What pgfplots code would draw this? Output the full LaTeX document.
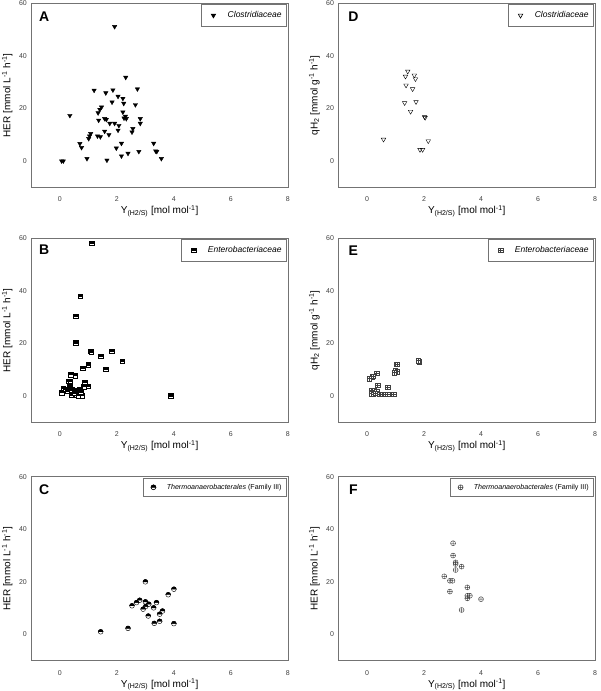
\documentclass[border=0pt]{standalone}
\usepackage{fontspec}
\setmainfont{Liberation Sans}
\usepackage{pgfplots}
\pgfplotsset{compat=1.18}
\usetikzlibrary{plotmarks}

% custom marks
\pgfdeclareplotmark{tophalfsquare}{%
  \pgfpathrectangle{\pgfpoint{-\pgfplotmarksize}{-\pgfplotmarksize}}{\pgfpoint{2\pgfplotmarksize}{2\pgfplotmarksize}}%
  \pgfsetfillcolor{white}\pgfusepathqfillstroke
  \pgfpathrectangle{\pgfpoint{-\pgfplotmarksize}{0pt}}{\pgfpoint{2\pgfplotmarksize}{\pgfplotmarksize}}%
  \pgfsetfillcolor{black}\pgfusepathqfillstroke}
\pgfdeclareplotmark{tophalfcircle}{%
  \pgfpathcircle{\pgfpointorigin}{\pgfplotmarksize}%
  \pgfsetfillcolor{white}\pgfusepathqfillstroke
  \pgfpathmoveto{\pgfpoint{-\pgfplotmarksize}{0pt}}%
  \pgfpatharc{180}{0}{\pgfplotmarksize}\pgfpathclose
  \pgfsetfillcolor{black}\pgfusepathqfillstroke}
\pgfdeclareplotmark{boxplus}{%
  \pgfpathrectangle{\pgfpoint{-\pgfplotmarksize}{-\pgfplotmarksize}}{\pgfpoint{2\pgfplotmarksize}{2\pgfplotmarksize}}%
  \pgfsetfillcolor{white}\pgfusepathqfillstroke
  \pgfpathmoveto{\pgfpoint{-\pgfplotmarksize}{0pt}}\pgfpathlineto{\pgfpoint{\pgfplotmarksize}{0pt}}%
  \pgfpathmoveto{\pgfpoint{0pt}{-\pgfplotmarksize}}\pgfpathlineto{\pgfpoint{0pt}{\pgfplotmarksize}}%
  \pgfusepathqstroke}

\pgfplotsset{
  panel/.style={
    scale only axis, width=256.5pt, height=184pt, anchor=north west,
    xmin=-1, xmax=8, ymin=-10, ymax=60,
    xtick={0,2,4,6,8}, ytick={0,20,40,60},
    major tick length=0pt,
    axis line style={black!55, line width=0.7pt},
    /pgf/number format/assume math mode=true,
    tick label style={font=\fontsize{7}{8}\selectfont, text=black!75},
    xticklabel style={yshift=-6pt},
    yticklabel style={xshift=-1pt},
    label style={font=\fontsize{9}{10}\selectfont},
    every axis x label/.style={at={(axis description cs:0.5,-0.129)}, anchor=center},
    every axis y label/.style={at={(axis description cs:-0.094,0.5)}, rotate=90, anchor=center},
    xlabel={Y\textsubscript{(H2/S)} [mol mol\textsuperscript{-1}]},
    legend style={at={(rel axis cs:1,1)}, anchor=north east, xshift=-1pt, yshift=-1pt,
      draw=black!55, line width=0.6pt, font=\fontsize{8.5}{10}\selectfont,
      inner xsep=3pt, inner ysep=5pt, fill=white},
    legend cell align=left,
    legend image code/.code={\path (0pt,0pt) (21pt,0pt); \draw[##1] plot coordinates {(9pt,0pt)};},
  },
  every axis plot/.append style={only marks, mark options={line width=0.5pt}},
}

\begin{document}
\begin{tikzpicture}
\useasboundingbox (0pt,0pt) rectangle (600pt,-691pt);

% ---------------- A ----------------
\begin{axis}[panel, at={(31.4pt,-3.3pt)}, ylabel={HER [mmol L\textsuperscript{-1} h\textsuperscript{-1}]}]
\addplot[mark=triangle*, mark size=2.5pt, mark options={rotate=180, fill=black, draw=black}] table {
0.06 0
0.12 0
0.35 17.3
0.70 6.6
0.76 5.1
0.95 0.9
1.01 8.5
1.04 9.5
1.08 10.4
1.20 26.9
1.32 9.5
1.34 18.3
1.36 15.5
1.40 19.6
1.42 9.2
1.46 20.5
1.57 16.1
1.57 11.3
1.61 25.9
1.63 15.8
1.65 0.3
1.72 10.0
1.75 14.3
1.83 22.4
1.86 27.0
1.92 51.1
1.92 14.3
1.98 4.9
2.04 24.6
2.04 11.7
2.07 13.5
2.16 6.7
2.16 1.9
2.21 23.8
2.24 21.9
2.21 18.6
2.25 16.3
2.30 17.0
2.33 16.1
2.31 31.8
2.39 2.9
2.53 11.0
2.56 12.3
2.65 21.4
2.72 27.4
2.77 3.6
2.82 16.1
2.82 14.3
3.29 6.7
3.36 3.8
3.40 3.6
3.56 0.9
};
\addlegendentry{\textit{Clostridiaceae}}
\node[font=\fontsize{14}{14}\selectfont\bfseries] at (rel axis cs:0.05,0.927) {A};
\end{axis}

% ---------------- D ----------------
\begin{axis}[panel, at={(338.5pt,-3.3pt)}, ylabel={qH\textsubscript{2} [mmol g\textsuperscript{-1} h\textsuperscript{-1}]}]
\addplot[mark=triangle, mark size=2.6pt, mark options={rotate=180, draw=black, fill=white}] table {
1.43 34.1
1.35 32.2
1.66 32.6
1.70 31.2
1.37 28.8
1.60 27.4
1.32 22.1
1.72 22.5
1.53 18.8
2.02 16.8
2.04 16.5
0.58 8.2
2.15 7.6
1.86 4.3
1.95 4.3
};
\addlegendentry{\textit{Clostridiaceae}}
\node[font=\fontsize{14}{14}\selectfont\bfseries] at (rel axis cs:0.058,0.927) {D};
\end{axis}

% ---------------- B ----------------
\begin{axis}[panel, at={(31.4pt,-238.3pt)}, ylabel={HER [mmol L\textsuperscript{-1} h\textsuperscript{-1}]}]
\addplot[mark=tophalfsquare, mark size=2.3pt, mark options={draw=black}] table {
1.12 58.1
0.71 37.9
0.55 30.3
0.55 20.2
1.08 17.1
1.10 16.6
1.82 17.1
1.43 15.1
2.19 13.3
1.00 11.8
0.81 10.6
1.61 10.2
0.38 8.2
0.54 7.8
0.29 5.6
0.36 5.6
0.88 5.1
1.00 3.8
0.83 3.6
0.35 3.6
0.12 2.8
0.06 1.3
0.21 2.6
0.27 1.8
0.41 2.3
0.55 2.2
0.70 2.3
0.39 0.5
0.59 0.5
0.64 0.2
0.78 0.2
0.74 1.5
0.50 1.2
3.88 0.1
};
\addlegendentry{\textit{Enterobacteriaceae}}
\node[font=\fontsize{14}{14}\selectfont\bfseries] at (rel axis cs:0.05,0.936) {B};
\end{axis}

% ---------------- E ----------------
\begin{axis}[panel, at={(338.5pt,-238.3pt)}, ylabel={qH\textsubscript{2} [mmol g\textsuperscript{-1} h\textsuperscript{-1}]}]
\addplot[mark=boxplus, mark size=2.2pt, mark options={draw=black!75}] table {
1.83 13.1
1.80 13.5
1.02 12.1
1.06 12.1
0.99 9.6
1.07 9.3
0.96 8.9
0.34 8.7
0.18 7.4
0.22 7.5
0.08 6.6
0.37 4.2
0.72 3.4
0.14 2.2
0.26 2.2
0.34 1.9
0.14 0.9
0.22 0.6
0.29 1.1
0.43 0.6
0.55 0.6
0.64 0.6
0.72 0.6
0.93 0.6
};
\addlegendentry{\textit{Enterobacteriaceae}}
\node[font=\fontsize{14}{14}\selectfont\bfseries] at (rel axis cs:0.058,0.931) {E};
\end{axis}

% ---------------- C ----------------
\begin{axis}[panel, at={(31.4pt,-476.7pt)}, ylabel={HER [mmol L\textsuperscript{-1} h\textsuperscript{-1}]},
  legend style={font=\fontsize{7.1}{8}\selectfont, inner ysep=4pt},
  legend image code/.code={\path (0pt,0pt) (18pt,0pt); \draw[#1] plot coordinates {(7pt,0pt)};}]
\addplot[mark=tophalfcircle, mark size=2.4pt, mark options={draw=black}] table {
3.00 20.0
4.00 17.2
3.80 15.1
2.80 13.0
3.00 12.4
3.12 11.5
2.69 12.1
3.39 12.1
2.53 10.9
3.29 10.1
3.01 10.6
2.92 9.6
3.60 8.9
3.50 7.7
3.10 7.0
3.31 4.2
3.50 5.0
4.00 4.1
2.39 2.3
1.43 1.0
};
\addlegendentry{\textit{Thermoanaerobacterales} (Family III)}
\node[font=\fontsize{14}{14}\selectfont\bfseries] at (rel axis cs:0.05,0.928) {C};
\end{axis}

% ---------------- F ----------------
\begin{axis}[panel, at={(338.5pt,-476.7pt)}, ylabel={HER [mmol L\textsuperscript{-1} h\textsuperscript{-1}]},
  legend style={font=\fontsize{7.1}{8}\selectfont, inner ysep=4pt},
  legend image code/.code={\path (0pt,0pt) (18pt,0pt); \draw[#1] plot coordinates {(7pt,0pt)};}]
\addplot[mark=oplus, mark size=2.5pt, mark options={draw=black!75, fill=white}] table {
3.02 34.7
3.02 30.0
3.11 27.4
3.11 26.8
3.32 25.8
3.11 24.5
2.71 22.1
2.91 20.4
3.00 20.4
3.52 17.9
2.91 16.3
3.52 14.7
3.61 14.7
3.52 13.7
4.00 13.4
3.32 9.3
};
\addlegendentry{\textit{Thermoanaerobacterales} (Family III)}
\node[font=\fontsize{14}{14}\selectfont\bfseries] at (rel axis cs:0.058,0.928) {F};
\end{axis}

\end{tikzpicture}
\end{document}
